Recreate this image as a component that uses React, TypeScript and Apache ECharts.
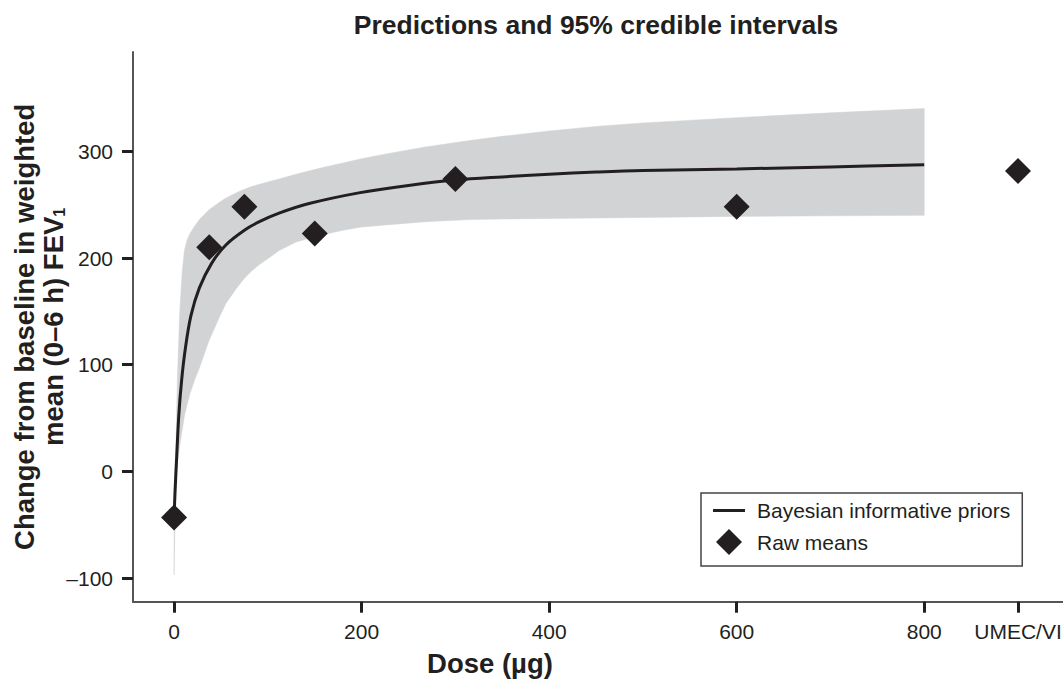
import React, { useEffect, useRef } from 'react';
import * as echarts from 'echarts';

const FONT = "'Liberation Sans', Arial, Helvetica, sans-serif";
const INK = '#231f20';
const BAND = '#d1d3d4';

// Raw means (dose in µg; UMEC/VI plotted at position 900)
const rawDoses = [0, 37.5, 75, 150, 300, 600, 900];
const rawValues = [-43, 210, 248, 223, 274, 248, 281.5];

// Bayesian informative priors prediction
const predDoses = [0, 1, 2.5, 5, 8, 12, 18, 27, 40, 55, 75, 91, 112, 144, 197, 250, 300, 350, 400, 450, 500, 600, 700, 800];
const predValues = [-43, -20, 8, 52, 85, 115, 146, 172, 195, 212, 226, 234, 242, 251, 261, 268, 273, 276, 278.5, 280.5, 282, 283.5, 285.3, 287.4];

// 95% credible interval
const bandDoses = [0, 1, 2, 3.5, 6, 8.5, 11, 14, 17, 22, 27, 37, 48, 55, 66, 75, 83, 91, 101, 112, 130, 155, 180, 200, 226, 268, 315, 350, 400, 453, 500, 600, 700, 800];
const bandUpper = [-15, 5, 25, 86, 149, 185, 207, 217, 223, 230, 236, 245, 252, 256, 261, 264.5, 267, 269, 271.5, 274, 278.5, 284, 289, 293, 297.5, 304, 310, 314, 319, 323.5, 326.5, 331.5, 336, 340];
const bandLower = [-97, -45, -10, 8, 24, 38, 52, 63, 73, 86, 97, 122, 144, 157, 171, 181, 188, 194, 200, 207, 215, 221, 226, 229, 231, 234, 236, 236.5, 237, 237.5, 238, 239, 239.5, 240];

// Axis ticks
const xTicks = [0, 200, 400, 600, 800, 900];
const xTickLabels: Record<number, string> = { 0: '0', 200: '200', 400: '400', 600: '600', 800: '800', 900: 'UMEC/VI' };
const yTicks = [-100, 0, 100, 200, 300];

const LINE_NAME = 'Bayesian informative priors';
const RAW_NAME = 'Raw means';

export default function App() {
  const ref = useRef<HTMLDivElement>(null);
  useEffect(() => {
    const chart = echarts.init(ref.current!, null, { renderer: 'svg' });
    const bandData = bandDoses.map((d, i) => [d, bandLower[i], bandUpper[i]]);
    const option: any = {
      animation: false,
      backgroundColor: '#ffffff',
      textStyle: { fontFamily: FONT, color: INK },
      grid: { left: 133, right: 0, top: 52, bottom: 77.3, containLabel: false, outerBoundsMode: 'none' },
      graphic: [
        {
          type: 'text',
          x: 596,
          y: 25,
          style: {
            text: 'Predictions and 95% credible intervals',
            fontSize: 26.5,
            fontWeight: 'bold',
            fontFamily: FONT,
            fill: INK,
            align: 'center',
            verticalAlign: 'middle',
          },
        },
        {
          type: 'text',
          x: 490,
          y: 663,
          style: {
            text: 'Dose (µg)',
            fontSize: 27.5,
            fontWeight: 'bold',
            fontFamily: FONT,
            fill: INK,
            align: 'center',
            verticalAlign: 'middle',
          },
        },
      ],
      legend: {
        orient: 'vertical',
        left: 701,
        top: 493,
        itemWidth: 32,
        itemHeight: 26,
        itemGap: 8,
        padding: [7, 12, 11, 12],
        borderColor: '#444',
        borderWidth: 1.5,
        borderRadius: 0,
        backgroundColor: '#ffffff',
        symbolKeepAspect: true,
        textStyle: { fontSize: 21, color: INK, fontFamily: FONT, padding: [0, 0, 0, 7] },
        data: [
          { name: LINE_NAME, icon: 'path://M0,0L32,0L32,3L0,3Z', itemStyle: { color: INK, opacity: 1 } },
          { name: RAW_NAME, icon: 'path://M13,0L26,13L13,26L0,13Z', itemStyle: { color: INK, opacity: 1 } },
        ],
      },
      xAxis: {
        type: 'value',
        min: -43.8,
        max: 948,
        splitLine: { show: false },
        axisLine: { show: true, onZero: false, lineStyle: { color: '#555', width: 2 } },
        axisTick: { show: true, length: 11, customValues: xTicks, lineStyle: { color: INK, width: 3 } },
        axisLabel: {
          customValues: xTicks,
          margin: 19,
          fontSize: 21,
          color: INK,
          fontFamily: FONT,
          formatter: (v: number) => xTickLabels[v] ?? String(v),
        },
      },
      yAxis: {
        type: 'value',
        min: -122,
        max: 393,
        splitLine: { show: false },
        axisLine: { show: true, onZero: false, lineStyle: { color: '#555', width: 2 } },
        axisTick: { show: true, length: 11, customValues: yTicks, lineStyle: { color: INK, width: 3 } },
        axisLabel: {
          customValues: yTicks,
          margin: 20,
          fontSize: 21,
          color: INK,
          fontFamily: FONT,
          formatter: (v: number) => (v < 0 ? '\u2013' + Math.abs(v) : String(v)),
        },
        name: 'Change from baseline in weighted\nmean (0\u20136 h) FEV{sub|1}',
        nameLocation: 'middle',
        nameRotate: 90,
        nameGap: 65.5,
        nameMoveOverlap: false,
        nameTextStyle: {
          fontSize: 27.5,
          fontWeight: 'bold',
          fontFamily: FONT,
          color: INK,
          lineHeight: 29,
          align: 'center',
          rich: {
            sub: { fontSize: 16, fontWeight: 'bold', fontFamily: FONT, color: INK, lineHeight: 10, verticalAlign: 'bottom' },
          },
        },
      },
      series: [
        {
          type: 'custom',
          name: 'band',
          silent: true,
          z: 1,
          data: bandData,
          encode: { x: 0, y: [1, 2] },
          renderItem: (params: any, api: any) => {
            if (params.dataIndex !== 0) return null;
            const pts: number[][] = [];
            for (let i = 0; i < bandDoses.length; i++) pts.push(api.coord([bandDoses[i], bandUpper[i]]));
            for (let i = bandDoses.length - 1; i >= 0; i--) pts.push(api.coord([bandDoses[i], bandLower[i]]));
            return { type: 'polygon', shape: { points: pts }, style: { fill: BAND, stroke: BAND, lineWidth: 0.5 } };
          },
        },
        {
          type: 'line',
          name: LINE_NAME,
          z: 3,
          data: predDoses.map((d, i) => [d, predValues[i]]),
          symbol: 'none',
          smooth: 0.35,
          color: INK,
          lineStyle: { color: INK, width: 3 },
          itemStyle: { color: INK, opacity: 1 },
        },
        {
          type: 'scatter',
          name: RAW_NAME,
          z: 5,
          data: rawDoses.map((d, i) => [d, rawValues[i]]),
          symbol: 'diamond',
          symbolSize: 26,
          itemStyle: { color: INK, opacity: 1 },
        },
      ],
    };
    chart.setOption(option);
    return () => chart.dispose();
  }, []);
  return (
    <div
      ref={ref}
      style={{ position: 'fixed', left: 0, top: 0, width: 1063, height: 679, background: '#ffffff' }}
    />
  );
}
